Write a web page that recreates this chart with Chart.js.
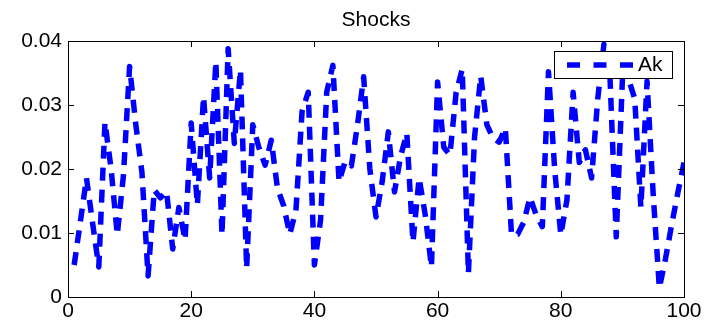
<!DOCTYPE html>
<html>
<head>
<meta charset="utf-8">
<script src="https://cdn.jsdelivr.net/npm/chart.js@4.4.0/dist/chart.umd.min.js"></script>
<style>
  html, body { margin: 0; padding: 0; background: #fff; }
</style>
</head>
<body>
<canvas id="shocksChart" width="706" height="323"></canvas>
<script>
// Ak shock series, one value per period 1..100
const akValues = [
  0.0050, 0.0117, 0.0186, 0.0115, 0.0047, 0.0273, 0.0200, 0.0097, 0.0190, 0.0360,
  0.0270, 0.0195, 0.0033, 0.0167, 0.0155, 0.0165, 0.0075, 0.0140, 0.0089, 0.0272,
  0.0144, 0.0313, 0.0186, 0.0368, 0.0097, 0.0388, 0.0240, 0.0355, 0.0045, 0.0269,
  0.0233, 0.0206, 0.0245, 0.0170, 0.0143, 0.0098, 0.0135, 0.0290, 0.0320, 0.0050,
  0.0120, 0.0320, 0.0362, 0.0180, 0.0212, 0.0205, 0.0269, 0.0344, 0.0200, 0.0125,
  0.0180, 0.0258, 0.0164, 0.0220, 0.0256, 0.0086, 0.0186, 0.0128, 0.0047, 0.0336,
  0.0234, 0.0222, 0.0319, 0.0356, 0.0037, 0.0250, 0.0345, 0.0269, 0.0248, 0.0242,
  0.0264, 0.0097, 0.0098, 0.0117, 0.0156, 0.0128, 0.0110, 0.0352, 0.0200, 0.0097,
  0.0152, 0.0320, 0.0210, 0.0230, 0.0186, 0.0310, 0.0395, 0.0340, 0.0094, 0.0340,
  0.0340, 0.0310, 0.0140, 0.0337, 0.0160, 0.0014, 0.0060, 0.0113, 0.0163, 0.0210
];
const periods = akValues.map((v, i) => i + 1);

const xTicks = [0, 20, 40, 60, 80, 100];
const yTicks = [0, 0.01, 0.02, 0.03, 0.04];
const titleText = 'Shocks';

const FONT = 'Liberation Sans, Arial, Helvetica, sans-serif';
const tickLen = 6;

// matlab style box: title over the axes, frame, inward ticks on all sides, boxed legend
const boxPlugin = {
  id: 'box',
  afterDatasetsDraw(chart) {
    const {ctx, chartArea: a, scales: {x, y}} = chart;
    ctx.save();
    ctx.fillStyle = '#000';
    ctx.font = '21px ' + FONT;
    ctx.textAlign = 'center';
    ctx.textBaseline = 'middle';
    ctx.fillText(titleText, (a.left + a.right) / 2, 20);

    ctx.strokeStyle = '#000';
    ctx.lineWidth = 1;
    ctx.setLineDash([]);
    ctx.strokeRect(a.left + 0.5, a.top + 0.5, a.right - a.left, a.bottom - a.top);

    ctx.beginPath();
    xTicks.forEach(v => {
      const px = Math.round(x.getPixelForValue(v)) + 0.5;
      ctx.moveTo(px, a.bottom); ctx.lineTo(px, a.bottom - tickLen);
      ctx.moveTo(px, a.top); ctx.lineTo(px, a.top + tickLen);
    });
    yTicks.forEach(v => {
      const py = Math.round(y.getPixelForValue(v)) + 0.5;
      ctx.moveTo(a.left, py); ctx.lineTo(a.left + tickLen, py);
      ctx.moveTo(a.right, py); ctx.lineTo(a.right - tickLen, py);
    });
    ctx.stroke();

    // legend
    const lx = a.right - 130, ly = a.top + 10, lw = 118, lh = 27;
    ctx.fillStyle = '#fff';
    ctx.fillRect(lx, ly, lw, lh);
    ctx.strokeRect(lx + 0.5, ly + 0.5, lw, lh);
    const ds = chart.data.datasets[0];
    ctx.strokeStyle = ds.borderColor;
    ctx.lineWidth = ds.borderWidth;
    ctx.setLineDash([13, 13.5]);
    ctx.beginPath();
    ctx.moveTo(lx + 13, ly + 14);
    ctx.lineTo(lx + 80, ly + 14);
    ctx.stroke();
    ctx.fillStyle = '#000';
    ctx.textAlign = 'left';
    ctx.fillText(ds.label, lx + 84, ly + 14);
    ctx.restore();
  }
};

new Chart(document.getElementById('shocksChart'), {
  type: 'line',
  data: {
    labels: periods,
    datasets: [{
      label: 'Ak',
      data: periods.map((p, i) => ({x: p, y: akValues[i]})),
      borderColor: '#0000ff',
      borderWidth: 5.5,
      borderDash: [13, 9],
      borderJoinStyle: 'round',
      pointRadius: 0,
      tension: 0,
      fill: false
    }]
  },
  options: {
    responsive: false,
    animation: false,
    devicePixelRatio: 1,
    layout: { padding: { left: 0, right: 22, top: 41, bottom: 0 } },
    plugins: {
      legend: { display: false },
      tooltip: { enabled: false },
      title: { display: false }
    },
    scales: {
      x: {
        type: 'linear',
        min: 0,
        max: 100,
        afterBuildTicks: s => { s.ticks = xTicks.map(v => ({value: v})); },
        afterFit: s => { s.height = 26; },
        grid: { display: false, drawTicks: false },
        border: { display: false },
        ticks: {
          color: '#000',
          padding: 2,
          maxRotation: 0,
          autoSkip: false,
          font: { family: FONT, size: 21 }
        }
      },
      y: {
        min: 0,
        max: 0.04,
        afterBuildTicks: s => { s.ticks = yTicks.map(v => ({value: v})); },
        afterFit: s => { s.width = 68; },
        grid: { display: false, drawTicks: false },
        border: { display: false },
        ticks: {
          color: '#000',
          padding: 6,
          font: { family: FONT, size: 21 },
          callback: v => v === 0 ? '0' : v.toFixed(2)
        }
      }
    }
  },
  plugins: [boxPlugin]
});
</script>
</body>
</html>
